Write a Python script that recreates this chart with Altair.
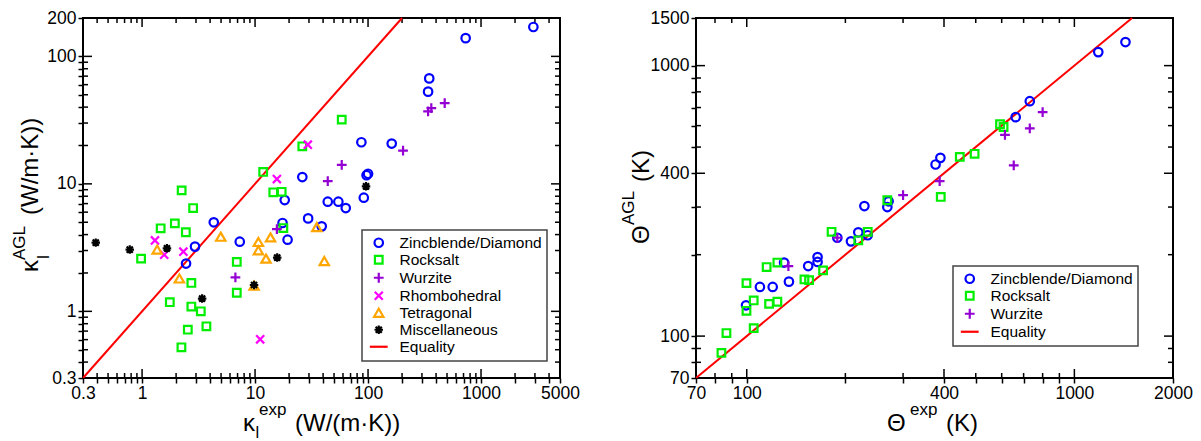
import json
import altair as alt
import pandas as pd

FONT = "Liberation Sans"

# ---------------- Left panel: lattice thermal conductivity ----------------
zb_kexp = [2905, 731, 348, 340, 87.3, 162, 26.2, 97, 100, 18.3, 44.0, 54.6, 63.5, 91.7,
           29.5, 38.9, 17.5, 19.4, 7.32, 4.31, 2.94, 2.45]
zb_kagl = [170, 139, 67.2, 52.9, 21.2, 20.7, 11.3, 11.7, 12.0, 7.46, 7.25, 7.25, 6.46, 7.79,
           5.36, 4.64, 4.93, 3.65, 3.52, 4.99, 3.22, 2.37]
rs_kexp = [58.5, 26.2, 11.8, 14.5, 17.2, 17.8, 2.24, 2.83, 1.95, 1.46, 2.44, 0.98, 6.89,
           6.89, 2.73, 1.76, 2.73, 3.31, 3.71, 2.54, 2.23]
rs_kagl = [31.9, 19.7, 12.4, 8.58, 8.66, 4.50, 8.89, 6.46, 4.90, 4.48, 4.17, 2.59, 2.44,
           1.40, 1.67, 1.18, 1.09, 1.00, 0.763, 0.718, 0.522]
wz_kexp = [340, 363, 477, 204, 58.5, 44.0, 15.6, 6.70]
wz_kagl = [37.0, 39.3, 43.0, 18.2, 14.1, 10.5, 4.42, 1.85]
rh_kexp = [29.3, 15.6, 1.30, 1.57, 2.32, 11.1]
rh_kagl = [20.3, 10.9, 3.60, 2.78, 2.94, 0.603]
te_kexp = [4.97, 1.36, 2.14, 10.7, 10.7, 13.7, 12.5, 35.2, 41.0, 9.8]
te_kagl = [3.85, 3.05, 1.81, 3.50, 3.01, 3.80, 2.59, 4.58, 2.48, 1.59]
mi_kexp = [0.389, 0.778, 1.66, 3.40, 9.8, 15.7, 96.0]
mi_kagl = [3.46, 3.05, 3.12, 1.26, 1.61, 2.64, 9.56]
eq_k = [0.3, 200]

k_xdomain = [0.3, 5000]
k_ydomain = [0.3, 200]
k_xlabels = [0.3, 1, 10, 100, 1000, 5000]
k_xmajor = [1, 10, 100, 1000]
k_xminor = [0.4, 0.5, 0.6, 0.7, 0.8, 0.9, 2, 3, 4, 5, 6, 7, 8, 9, 20, 30, 40, 50, 60, 70, 80,
            90, 200, 300, 400, 500, 600, 700, 800, 900, 2000, 3000, 4000]
k_ylabels = [0.3, 1, 10, 100, 200]
k_ymajor = [1, 10, 100]
k_yminor = [0.4, 0.5, 0.6, 0.7, 0.8, 0.9, 2, 3, 4, 5, 6, 7, 8, 9, 20, 30, 40, 50, 60, 70, 80,
            90]

# ---------------- Right panel: Debye temperature ----------------
zb_texp = [1432, 1183, 731, 662, 390, 377, 228.6, 268.6, 271, 219, 208, 234, 189, 164.5,
           164.5, 154, 130, 134.5, 120, 109.7, 99.5]
zb_tagl = [1222, 1122, 739, 645, 456, 431, 302.6, 300, 315, 242, 224, 236, 231, 196, 188,
           181.5, 187, 159, 152, 152, 130]
rs_texp = [593, 608, 447, 496, 391, 268.6, 181.5, 234, 219, 171, 150, 155, 124, 115, 99.8,
           99.8, 105, 117, 124, 105, 86.7, 83.7]
rs_tagl = [607, 593, 460, 472, 327, 318, 243, 243, 226, 175, 162, 161, 187, 180, 157, 124,
           135.5, 131.6, 134, 107, 102.6, 86.7]
wz_texp = [800, 731, 614, 653, 388, 300, 189, 134]
wz_tagl = [673, 586, 555, 428, 374, 332, 231, 181.5]
eq_t = [70, 1500]

t_xdomain = [70, 2000]
t_ydomain = [70, 1500]
t_xlabels = [70, 100, 400, 1000, 2000]
t_xmajor = [100, 400, 1000]
t_xminor = [80, 90, 200, 300, 500, 600, 700, 800, 900]
t_ylabels = [70, 100, 400, 1000, 1500]
t_ymajor = [100, 400, 1000]
t_yminor = [80, 90, 200, 300, 500, 600, 700, 800, 900]

# ---------------- categories / styles ----------------
left_types = ["Zincblende/Diamond", "Rocksalt", "Wurzite", "Rhombohedral", "Tetragonal",
              "Miscellaneous", "Equality"]
right_types = ["Zincblende/Diamond", "Rocksalt", "Wurzite", "Equality"]

COLORS = {"Zincblende/Diamond": "#0000ff", "Rocksalt": "#00ee00", "Wurzite": "#9400d3",
          "Rhombohedral": "#ff00ff", "Tetragonal": "#ffa500", "Miscellaneous": "#000000",
          "Equality": "#ff0000"}
SHAPES = {"Zincblende/Diamond": "circle",
          "Rocksalt": "M-0.9,-0.9H0.9V0.9H-0.9Z",
          "Wurzite": "M-1.15,0H1.15M0,-1.15V1.15",
          "Rhombohedral": "M-0.95,-0.95L0.95,0.95M-0.95,0.95L0.95,-0.95",
          "Tetragonal": "M0,-0.95L1.1,0.95L-1.1,0.95Z",
          "Miscellaneous": "M-1,0H1M0,-1V1M-0.72,-0.72L0.72,0.72M-0.72,0.72L0.72,-0.72",
          "Equality": "M-2.1,0H2.1"}

W, H = 477, 360
MAJOR, MINOR = 9, 5
AXIS_TICK = 5


def make_frame(groups):
    rows = []
    for name, xs, ys in groups:
        for x, y in zip(xs, ys):
            rows.append({"exp": x, "agl": y, "type": name})
    return pd.DataFrame(rows)


left_df = make_frame([
    ("Zincblende/Diamond", zb_kexp, zb_kagl), ("Rocksalt", rs_kexp, rs_kagl),
    ("Wurzite", wz_kexp, wz_kagl), ("Rhombohedral", rh_kexp, rh_kagl),
    ("Tetragonal", te_kexp, te_kagl), ("Miscellaneous", mi_kexp, mi_kagl)])
right_df = make_frame([
    ("Zincblende/Diamond", zb_texp, zb_tagl), ("Rocksalt", rs_texp, rs_tagl),
    ("Wurzite", wz_texp, wz_tagl)])


def label_axis(orient, labelled, major, minor):
    test = "indexof(%s, datum.value) >= 0" % json.dumps(labelled)
    values = sorted(set(labelled) | set(major) | set(minor))
    return alt.Axis(orient=orient, values=values, grid=False, domain=False, ticks=True,
                    tickSize=AXIS_TICK, tickColor="black", tickWidth=1.5, zindex=1,
                    title=None, labelExpr="%s ? format(datum.value, '~g') : ''" % test,
                    labelFont=FONT, labelFontSize=17.5, labelColor="black", labelAngle=0,
                    labelOverlap=False, labelFlush=False, labelBound=False,
                    labelPadding=(6 if orient == "bottom" else 7) - AXIS_TICK)


def tick_layers(xs, ys, xax, yax, xmaj, xmin, ymaj, ymin):
    """Inward frame ticks (major and minor), placed along the frame by the panel's
    own log scales."""
    out = []
    for vals, ln in ((xmaj, MAJOR), (xmin, MINOR)):
        base = alt.Chart(pd.DataFrame({"v": vals})).mark_rule(color="black", strokeWidth=1.5)
        xenc = alt.X("v:Q", scale=xs, axis=xax)
        out.append(base.encode(x=xenc, y=alt.value(H), y2=alt.value(H - ln)))
        out.append(base.encode(x=xenc, y=alt.value(0), y2=alt.value(ln)))
    for vals, ln in ((ymaj, MAJOR), (ymin, MINOR)):
        base = alt.Chart(pd.DataFrame({"v": vals})).mark_rule(color="black", strokeWidth=1.5)
        yenc = alt.Y("v:Q", scale=ys, axis=yax)
        out.append(base.encode(y=yenc, x=alt.value(0), x2=alt.value(ln)))
        out.append(base.encode(y=yenc, x=alt.value(W), x2=alt.value(W - ln)))
    return out


def txt(s, x, y, size, angle=0):
    return alt.Chart(alt.Data(values=[{"k": 0}])).mark_text(
        align="left", baseline="alphabetic", font=FONT, fontSize=size, angle=angle,
        color="black").encode(x=alt.value(x), y=alt.value(y), text=alt.value(s))


def panel(df, eq, xdom, ydom, xlab, xmaj, xmin, ylab, ymaj, ymin, types, legend_xy, pieces):
    xs = alt.Scale(type="log", domain=xdom, nice=False)
    ys = alt.Scale(type="log", domain=ydom, nice=False)
    xax = label_axis("bottom", xlab, xmaj, xmin)
    yax = label_axis("left", ylab, ymaj, ymin)
    eq_df = pd.DataFrame({"exp": eq, "agl": eq})
    leg = alt.Legend(orient="none", legendX=legend_xy[0], legendY=legend_xy[1], title=None,
                     strokeColor="#444444", fillColor="white", padding=5,
                     labelFont=FONT, labelFontSize=15.5, labelColor="black", labelOffset=13,
                     symbolSize=72, symbolStrokeWidth=2.2, rowPadding=-1, symbolOffset=4)
    ticks = tick_layers(xs, ys, xax, yax, xmaj, xmin, ymaj, ymin)
    line = alt.Chart(eq_df).mark_line(color="#ff0000", strokeWidth=2).encode(
        x=alt.X("exp:Q", scale=xs, axis=xax),
        y=alt.Y("agl:Q", scale=ys, axis=yax))
    pts = alt.Chart(df).mark_point(filled=False, size=72, strokeWidth=2.2, opacity=1).encode(
        x=alt.X("exp:Q", scale=xs, axis=xax),
        y=alt.Y("agl:Q", scale=ys, axis=yax),
        color=alt.Color("type:N", scale=alt.Scale(domain=types,
                                                  range=[COLORS[t] for t in types]),
                        legend=leg),
        shape=alt.Shape("type:N", scale=alt.Scale(domain=types,
                                                  range=[SHAPES[t] for t in types]),
                        legend=leg))
    texts = [txt(*p) for p in pieces]
    return alt.layer(*ticks, line, pts, *texts).properties(width=W, height=H)


left_titles = [
    ("κ", 160, 413, 24), ("l", 172.5, 420, 16.5), ("exp", 176, 397, 17),
    ("(W/(m·K))", 212, 413, 24),
    ("κ", -45, 254, 24, 270), ("l", -34, 241, 17, 270), ("AGL", -58, 242, 17, 270),
    ("(W/m·K))", -45, 197, 24, 270),
]
right_titles = [
    ("Θ", 191, 413, 24), ("exp", 214, 397, 17), ("(K)", 250, 413, 24),
    ("Θ", -47, 226, 24, 270), ("AGL", -62, 207, 17, 270), ("(K)", -47, 164, 24, 270),
]

left = panel(left_df, eq_k, k_xdomain, k_ydomain, k_xlabels, k_xmajor, k_xminor,
             k_ylabels, k_ymajor, k_yminor, left_types, (279, 212), left_titles)
right = panel(right_df, eq_t, t_xdomain, t_ydomain, t_xlabels, t_xmajor, t_xminor,
              t_ylabels, t_ymajor, t_yminor, right_types, (257, 248), right_titles)

chart = alt.hconcat(left, right, spacing=136, bounds="flush").resolve_scale(
    color="independent", shape="independent").properties(
    autosize=alt.AutoSizeParams(type="none"),
    padding={"left": 75, "top": 10, "right": 1110, "bottom": 430}).configure_view(
    stroke="black", strokeWidth=2).configure_legend(strokeWidth=1.5)

chart.save("out.html", embed_options={"renderer": "svg", "actions": False})
